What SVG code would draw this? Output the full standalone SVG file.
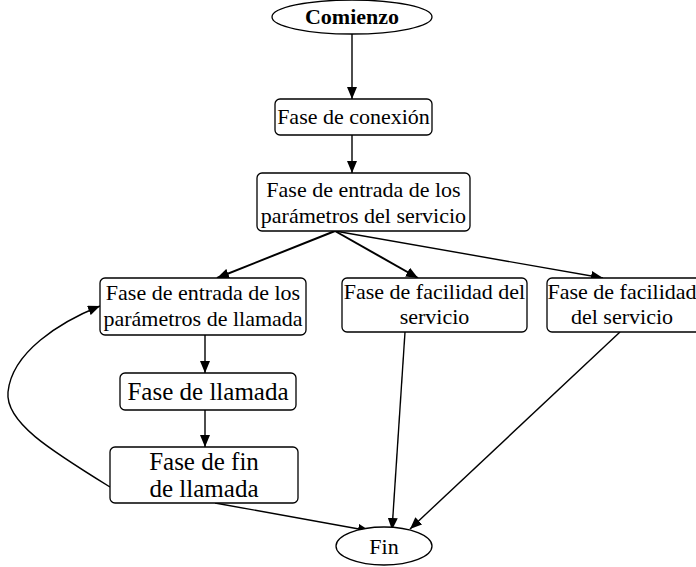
<svg xmlns="http://www.w3.org/2000/svg" width="696" height="567" viewBox="0 0 696 567">
  <style>
    .box { fill: #fff; stroke: #000; stroke-width: 1.3; }
    .t { font-family: "Liberation Serif", "Times New Roman", serif; font-size: 22px; fill: #000; text-anchor: middle; }
    .big { font-size: 25px; }
    .bold { font-weight: bold; font-size: 22px; }
    .edge { fill: none; stroke: #000; stroke-width: 1.4; marker-end: url(#arrow); }
    .thick { stroke-width: 2; }
  </style>
  <defs>
    <marker id="arrow" markerUnits="userSpaceOnUse" markerWidth="12" markerHeight="10" refX="12" refY="5" orient="auto">
      <path d="M0,0 L12,5 L0,10 z" fill="#000"/>
    </marker>
  </defs>
  <rect width="696" height="567" fill="#fff"/>

  <!-- connectors -->
  <g id="connectors">
    <path class="edge" d="M352,34 L352,99"/>
    <path class="edge" d="M352,135 L352,173"/>
    <path class="edge thick" d="M335,231 L217,278"/>
    <path class="edge thick" d="M335,231 L418,278"/>
    <path class="edge" d="M335,231 L603,278"/>
    <path class="edge" d="M205,335 L205,373"/>
    <path class="edge" d="M205,410 L205,447"/>
    <path class="edge" d="M110,487 C50,450 5,422 8,392 C12,352 60,322 100,306"/>
    <path class="edge" d="M215,503 L370,531"/>
    <path class="edge" d="M405,332 L392,530"/>
    <path class="edge" d="M620,332 L410,529"/>
  </g>

  <g id="comienzo">
    <ellipse class="box" cx="352" cy="17" rx="80" ry="17"/>
    <text class="t bold" x="352" y="24">Comienzo</text>
  </g>

  <g id="conexion">
    <rect class="box" x="275" y="99" width="157" height="36" rx="5"/>
    <text class="t" x="353.5" y="124">Fase de conexión</text>
  </g>

  <g id="entrada-servicio">
    <rect class="box" x="257" y="173" width="213" height="58" rx="5"/>
    <text class="t" x="363.5" y="197">Fase de entrada de los</text>
    <text class="t" x="363.5" y="223">parámetros del servicio</text>
  </g>

  <g id="entrada-llamada">
    <rect class="box" x="100" y="278" width="206" height="57" rx="5"/>
    <text class="t" x="203" y="300">Fase de entrada de los</text>
    <text class="t" x="203" y="326">parámetros de llamada</text>
  </g>

  <g id="facilidad-1">
    <rect class="box" x="342" y="278" width="185" height="54" rx="5"/>
    <text class="t" x="434.5" y="299">Fase de facilidad del</text>
    <text class="t" x="434.5" y="324">servicio</text>
  </g>

  <g id="facilidad-2">
    <rect class="box" x="547" y="278" width="160" height="54" rx="5"/>
    <text class="t" x="622" y="299">Fase de facilidad</text>
    <text class="t" x="622" y="324">del servicio</text>
  </g>

  <g id="llamada">
    <rect class="box" x="120" y="373" width="176" height="37" rx="5"/>
    <text class="t big" x="208" y="400">Fase de llamada</text>
  </g>

  <g id="fin-llamada">
    <rect class="box" x="110" y="447" width="188" height="56" rx="5"/>
    <text class="t big" x="204" y="470">Fase de fin</text>
    <text class="t big" x="204" y="497">de llamada</text>
  </g>

  <g id="fin">
    <ellipse class="box" cx="384" cy="546" rx="48" ry="19"/>
    <text class="t" x="384" y="554">Fin</text>
  </g>
</svg>
